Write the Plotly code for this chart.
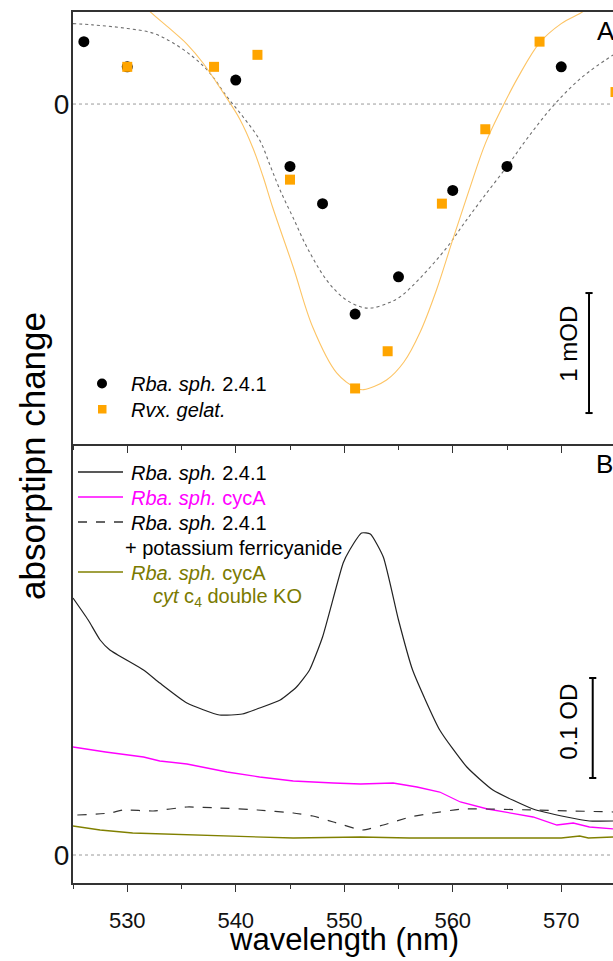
import plotly.graph_objects as go

# ---------------- data ----------------
# Panel A: absorption change (mOD)
rba_pts_x = [526, 530, 540, 545, 548, 551, 555, 560, 565, 570]
rba_pts_y = [0.52, 0.31, 0.20, -0.52, -0.83, -1.75, -1.44, -0.72, -0.52, 0.31]
rvx_pts_x = [530, 538, 542, 545, 551, 554, 559, 563, 568, 575]
rvx_pts_y = [0.31, 0.31, 0.41, -0.63, -2.37, -2.06, -0.83, -0.21, 0.52, 0.10]

rba_fit_x = [525, 526.8, 530, 532.4, 534.2, 536.1, 537.6, 539.2, 540.7, 542.2, 543.2, 544.1,
             545.3, 546.6, 548.4, 550.0, 551.5, 552.5, 554.0, 555.1, 557.0, 559.5, 561.0,
             562.8, 565.0, 567.0, 569.4, 572.0, 574.8]
rba_fit_y = [0.67, 0.66, 0.63, 0.59, 0.51, 0.39, 0.26, 0.06, -0.11, -0.30, -0.52, -0.72,
             -0.95, -1.20, -1.47, -1.62, -1.69, -1.70, -1.66, -1.61, -1.45, -1.19, -1.00,
             -0.78, -0.52, -0.27, 0.0, 0.23, 0.41]

rvx_fit_x = [531.6, 532.1, 533.9, 535.5, 537.0, 538.8, 540.4, 541.6, 542.5, 543.4, 545.3,
             547.1, 549.3, 551.2, 551.8, 553.9, 555.5, 557.0, 558.5, 560.0, 561.5, 563.0,
             564.5, 566.0, 568.0, 570.0, 572.0, 572.6]
rvx_fit_y = [0.82, 0.77, 0.63, 0.50, 0.34, 0.10, -0.13, -0.37, -0.60, -0.86, -1.36,
             -1.86, -2.24, -2.37, -2.38, -2.30, -2.15, -1.90, -1.55, -1.13, -0.72, -0.33,
             -0.04, 0.22, 0.51, 0.67, 0.77, 0.82]

# Panel B: absorbance (OD)
wt_x = [525, 526.4, 527.5, 528.4, 531.5, 533.0, 535.5, 538.5, 540.6, 542.2, 544.1, 545.6,
        546.8, 548.0, 549.9, 550.5, 551.6, 552.4, 553.6, 555.0, 556.3, 558.8, 561.3,
        563.7, 567.4, 570.5, 572.6, 574.8]
wt_y = [0.257, 0.235, 0.215, 0.205, 0.185, 0.172, 0.152, 0.140, 0.141, 0.147, 0.155, 0.168,
        0.185, 0.218, 0.292, 0.305, 0.322, 0.321, 0.298, 0.235, 0.185, 0.125, 0.088,
        0.065, 0.046, 0.038, 0.034, 0.034]

cyca_x = [525, 528, 531.5, 533, 535.5, 539.2, 542.2, 545.3, 549, 551.5, 554.5, 556.7,
          558.8, 560.7, 563.2, 567.4, 569.6, 571.1, 572.6, 574.8]
cyca_y = [0.108, 0.103, 0.098, 0.094, 0.091, 0.083, 0.078, 0.074, 0.072, 0.071, 0.072, 0.068,
          0.063, 0.053, 0.046, 0.038, 0.030, 0.032, 0.028, 0.026]

ferri_x = [525.4, 528.4, 529.6, 532.4, 535.5, 538.5, 542, 545.3, 547.1, 549, 551.7, 553.6,
           556.1, 558.2, 560.9, 567.4, 574.8]
ferri_y = [0.040, 0.042, 0.045, 0.044, 0.048, 0.047, 0.045, 0.042, 0.039, 0.033, 0.025, 0.030,
           0.038, 0.042, 0.046, 0.045, 0.043]

ko_x = [525, 527.5, 530.5, 536.1, 542.2, 545.3, 551.5, 556, 561, 566, 570, 571.7, 572.5, 574.8]
ko_y = [0.029, 0.025, 0.022, 0.020, 0.018, 0.017, 0.018, 0.017, 0.017, 0.017, 0.017, 0.019,
        0.017, 0.018]

x_major_ticks = [530, 540, 550, 560, 570]
x_tick_labels = ["530", "540", "550", "560", "570"]

# ---------------- figure ----------------
W, H = 613, 961
ML, MR, MT, MB = 73, 0, 12, 78
PW, PH = W - ML - MR, H - MT - MB
SPLIT = 444  # pixel row of the border between panels


def px(xp):
    return (xp - ML) / PW


def py(yp):
    return (H - MB - yp) / PH


FONT = "Liberation Sans, Arial, sans-serif"
AX = "#333333"
ORANGE = "#FFA500"
MAGENTA = "#FF00FF"
OLIVE = "#808000"
OLIVE_TXT = "#7A7A00"

fig = go.Figure()

# Panel A
fig.add_trace(go.Scatter(x=rba_fit_x, y=rba_fit_y, mode="lines", xaxis="x2", yaxis="y",
                         line=dict(color="#6e6e6e", width=1.1, dash="dot", shape="spline")))
fig.add_trace(go.Scatter(x=rvx_fit_x, y=rvx_fit_y, mode="lines", xaxis="x2", yaxis="y",
                         line=dict(color="#FDC464", width=1.1, shape="spline")))
fig.add_trace(go.Scatter(x=rba_pts_x, y=rba_pts_y, mode="markers", xaxis="x2", yaxis="y",
                         marker=dict(symbol="circle", size=11, color="black")))
fig.add_trace(go.Scatter(x=rvx_pts_x, y=rvx_pts_y, mode="markers", xaxis="x2", yaxis="y",
                         marker=dict(symbol="square", size=10, color=ORANGE,
                                     line=dict(width=0))))

# Panel B
fig.add_trace(go.Scatter(x=wt_x, y=wt_y, mode="lines", xaxis="x", yaxis="y2",
                         line=dict(color="#222222", width=1.2, shape="spline", smoothing=0.5)))
fig.add_trace(go.Scatter(x=cyca_x, y=cyca_y, mode="lines", xaxis="x", yaxis="y2",
                         line=dict(color=MAGENTA, width=1.3)))
fig.add_trace(go.Scatter(x=ferri_x, y=ferri_y, mode="lines", xaxis="x", yaxis="y2",
                         line=dict(color="#333333", width=1.2, dash="dash", shape="spline",
                                   smoothing=0.5)))
fig.add_trace(go.Scatter(x=ko_x, y=ko_y, mode="lines", xaxis="x", yaxis="y2",
                         line=dict(color=OLIVE, width=1.3)))

xr = [525, 525 + PW / 10.85]
ydomA = [py(SPLIT), 1]
ydomB = [0, py(SPLIT)]

common_x = dict(range=xr, showline=True, linecolor=AX, linewidth=2, showgrid=False,
                zeroline=False, tickmode="array", tickvals=x_major_ticks,
                ticktext=x_tick_labels, ticks="outside", ticklen=7, tickwidth=1.3,
                tickcolor=AX,
                minor=dict(ticks="outside", tickvals=[525, 535, 545, 555, 565, 575],
                           ticklen=4, tickwidth=1.3, tickcolor=AX))

fig.update_layout(
    width=W, height=H,
    margin=dict(l=ML, r=MR, t=MT, b=MB),
    paper_bgcolor="white", plot_bgcolor="white",
    showlegend=False,
    font=dict(family=FONT, color="black"),
    xaxis=dict(**common_x, anchor="y2", domain=[0, 1],
               tickfont=dict(size=22, family=FONT, color="#111"), ticklabelstandoff=10),
    xaxis2=dict(**common_x, anchor="y", domain=[0, 1], matches="x",
                showticklabels=False, mirror=True),
    yaxis=dict(domain=ydomA, anchor="x2", range=[-2.833, 0.767], showline=True,
               linecolor=AX, linewidth=2, showgrid=False, zeroline=False,
               tickmode="array", tickvals=[0], ticktext=["0"], ticks="",
               tickfont=dict(size=28, family=FONT, color="#111"), ticklabelstandoff=-4),
    yaxis2=dict(domain=ydomB, anchor="x", range=[-0.028, 0.411], showline=True,
                linecolor=AX, linewidth=2, showgrid=False, zeroline=False,
                tickmode="array", tickvals=[0], ticktext=["0"], ticks="",
                tickfont=dict(size=28, family=FONT, color="#111"), ticklabelstandoff=-4),
)

shapes = []
# dotted zero lines
shapes.append(dict(type="line", xref="x2 domain", yref="y", x0=0, x1=1, y0=0, y1=0,
                   line=dict(color="#9a9a9a", width=1, dash="dot")))
shapes.append(dict(type="line", xref="x domain", yref="y2", x0=0, x1=1, y0=0, y1=0,
                   line=dict(color="#9a9a9a", width=1, dash="dot")))

# scale bar A : 1 mOD
sbA_x, sbA_y0, sbA_y1 = 572.56, -2.575, -1.575
capA = 0.33
shapes += [
    dict(type="line", xref="x2", yref="y", x0=sbA_x, x1=sbA_x, y0=sbA_y0, y1=sbA_y1,
         line=dict(color="black", width=2)),
    dict(type="line", xref="x2", yref="y", x0=sbA_x - capA, x1=sbA_x + capA, y0=sbA_y0,
         y1=sbA_y0, line=dict(color="black", width=2)),
    dict(type="line", xref="x2", yref="y", x0=sbA_x - capA, x1=sbA_x + capA, y0=sbA_y1,
         y1=sbA_y1, line=dict(color="black", width=2)),
]
# scale bar B : 0.1 OD
sbB_x, sbB_y0, sbB_y1 = 572.9, 0.077, 0.177
shapes += [
    dict(type="line", xref="x", yref="y2", x0=sbB_x, x1=sbB_x, y0=sbB_y0, y1=sbB_y1,
         line=dict(color="black", width=2)),
    dict(type="line", xref="x", yref="y2", x0=sbB_x - capA, x1=sbB_x + capA, y0=sbB_y0,
         y1=sbB_y0, line=dict(color="black", width=2)),
    dict(type="line", xref="x", yref="y2", x0=sbB_x - capA, x1=sbB_x + capA, y0=sbB_y1,
         y1=sbB_y1, line=dict(color="black", width=2)),
]

# legend A symbols
shapes.append(dict(type="circle", xref="paper", yref="paper",
                   x0=px(97), x1=px(107), y0=py(388.5), y1=py(378.5),
                   fillcolor="black", line=dict(width=0)))
shapes.append(dict(type="rect", xref="paper", yref="paper",
                   x0=px(98), x1=px(106.5), y0=py(413.5), y1=py(405),
                   fillcolor=ORANGE, line=dict(width=0)))

# legend B lines
leg_lines = [(472, "#222222", "solid"), (497, MAGENTA, "solid"), (522, "#333333", "dash"),
             (572, OLIVE, "solid")]
for yy, col, dsh in leg_lines:
    shapes.append(dict(type="line", xref="paper", yref="paper", x0=px(78), x1=px(123),
                       y0=py(yy), y1=py(yy), line=dict(color=col, width=1.3, dash=dsh)))

annotations = []


def txt(xp, yp, s, size=20, color="black", xanchor="left", angle=0):
    annotations.append(dict(x=px(xp), y=py(yp), xref="paper", yref="paper", text=s,
                            showarrow=False, xanchor=xanchor, yanchor="middle",
                            textangle=angle,
                            font=dict(size=size, color=color, family=FONT)))


# legend A texts
txt(129, 384, "<i>Rba. sph.</i> 2.4.1")
txt(129, 410, "<i>Rvx. gelat.</i>")
# legend B texts
txt(129, 473, "<i>Rba. sph.</i> 2.4.1")
txt(129, 498, "<i>Rba. sph.</i> cycA", color=MAGENTA)
txt(129, 523, "<i>Rba. sph.</i> 2.4.1")
txt(123, 548, "+ potassium ferricyanide")
txt(129, 573, "<i>Rba. sph.</i> cycA", color=OLIVE_TXT)
txt(151, 597, "<i>cyt</i> c<sub>4</sub> double KO", color=OLIVE_TXT)

# panel letters
txt(595, 31, "A", size=26)
txt(594, 464, "B", size=26)

# scale bar labels
annotations.append(dict(x=570.6, y=-2.0, xref="x2", yref="y", text="1 mOD", showarrow=False,
                        textangle=-90, xanchor="center", yanchor="middle",
                        font=dict(size=24, color="black", family=FONT)))
annotations.append(dict(x=570.6, y=0.133, xref="x", yref="y2", text="0.1 OD",
                        showarrow=False, textangle=-90, xanchor="center", yanchor="middle",
                        font=dict(size=24, color="black", family=FONT)))

# axis titles
txt(32, 456, "absorptipn change", size=35, xanchor="center", angle=-90)
txt(344, 939, "wavelength (nm)", size=31, xanchor="center")

fig.update_layout(shapes=shapes, annotations=annotations)

fig.write_html("out.html")
